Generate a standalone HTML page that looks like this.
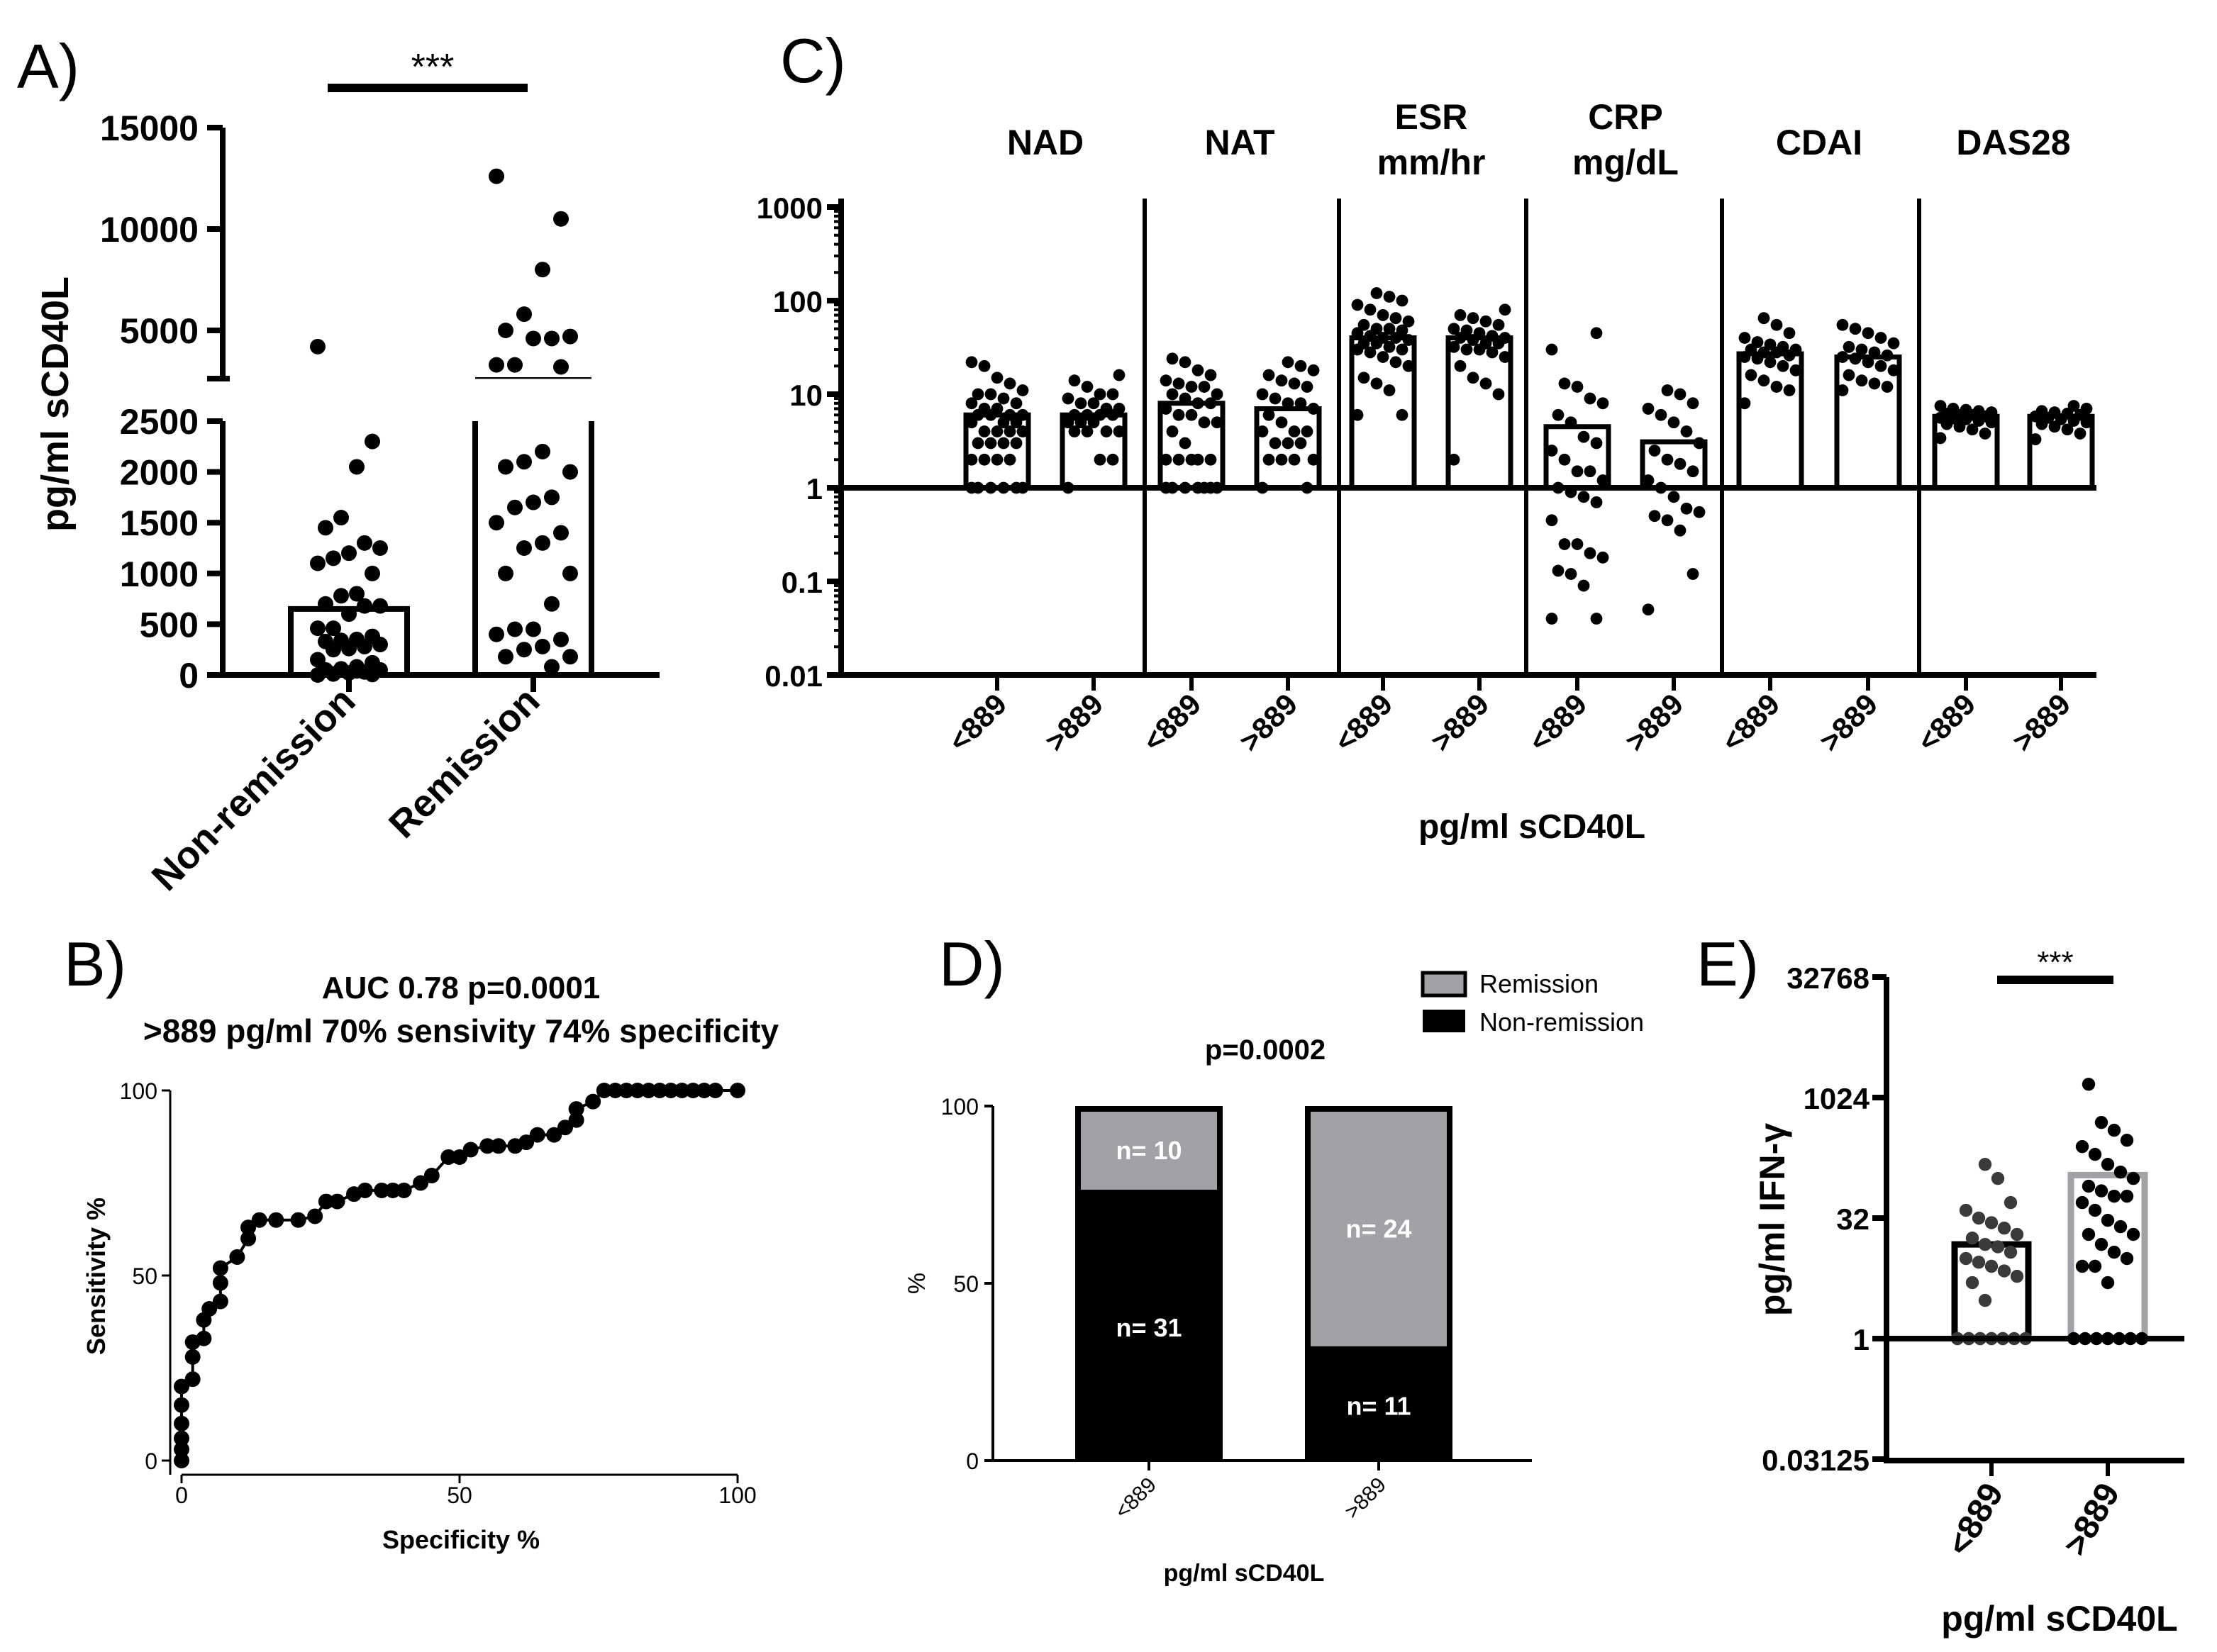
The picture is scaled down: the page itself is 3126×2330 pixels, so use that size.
<!DOCTYPE html>
<html><head><meta charset="utf-8"><style>
html,body{margin:0;padding:0;background:#fff;}
svg{display:block;}
text{font-family:"Liberation Sans",Arial,sans-serif;fill:#000;}
.b{font-weight:bold;}
</style></head><body>
<svg id="fig" width="3126" height="2330" viewBox="0 0 1563 1165" xmlns="http://www.w3.org/2000/svg">
<g id="A"></g>
<g id="B"></g>
<g id="C"></g>
<g id="D"></g>
<g id="E"></g>
</svg>
<script>
// ---------- Panel A data ----------
const aCategories = ["Non-remission","Remission"];
const aMeans = [650, 2650];
const aNonRem = [4200,2300,2050,1550,1450,1250,1300,1200,1150,1100,1000,800,780,700,680,680,600,460,460,380,350,340,330,300,280,260,250,150,120,80,60,50,50,30,20,10,0,5,40];
const aRem = [12600,10500,8000,5800,5000,4700,4600,4600,3300,3300,3200,2200,2100,2050,2000,1750,1700,1650,1500,1400,1300,1250,1000,1000,700,450,450,400,350,280,250,180,180,80];
const aTicksLow = [0,500,1000,1500,2000,2500];
const aTicksHigh = [5000,10000,15000];
// ---------- Panel B data ----------
const rocSpec = [0,0,0,0,0,0,2,2,2,4,4,5,7,7,7,10,12,12,14,17,21,24,26,28,31,33,36,38,40,43,45,48,50,52,55,57,60,62,64,67,69,71,71,74,76,78,80,82,84,86,88,90,92,94,96,100];
const rocSens = [0,3,6,10,15,20,22,28,32,33,38,41,43,48,52,55,60,63,65,65,65,66,70,70,72,73,73,73,73,75,77,82,82,84,85,85,85,86,88,88,90,92,95,97,100,100,100,100,100,100,100,100,100,100,100,100];
const bTicks = [0,50,100];
// ---------- Panel C data ----------
const cHeaders = [["NAD"],["NAT"],["ESR","mm/hr"],["CRP","mg/dL"],["CDAI"],["DAS28"]];
const cGroupLabels = ["<889",">889"];
const cMeans = [6,6,8,7,40,40,4.5,3.1,27,25,5.8,5.8];
const cNADlo = [1,1,1,1,1,1,2,2,2,2,3,3,3,3,4,4,4,4,5,5,5,6,6,6,6,7,7,8,8,9,10,10,11,13,15,20,22];
const cNADhi = [1,2,2,4,4,4,4,5,5,5,6,6,6,6,7,7,8,8,9,10,10,12,14,16];
const cNATlo = [1,1,1,1,1,1,1,2,2,2,2,2,3,4,5,5,6,6,7,8,8,9,10,10,12,12,13,14,16,18,22,24];
const cNAThi = [1,1,2,2,2,2,3,3,3,4,4,4,5,6,7,8,8,9,10,12,13,14,16,18,20,22];
const cESRlo = [6,6,11,13,15,20,22,25,28,30,30,32,35,35,38,40,40,42,45,48,50,50,55,60,65,70,80,90,100,110,120];
const cESRhi = [2,10,13,15,20,25,28,30,30,32,35,35,38,40,40,42,45,48,50,55,60,65,70,80];
const cCRPlo = [0.04,0.04,0.09,0.12,0.13,0.18,0.2,0.25,0.25,0.45,0.7,0.8,0.9,1,1.2,1.5,1.5,2,2.5,3,3.5,5,6,8,9,12,13,30,45];
const cCRPhi = [0.05,0.12,0.35,0.45,0.5,0.55,0.6,0.8,1,1.2,1.5,1.8,2,2.5,3,4,5,6,7,8,10,11];
const cCDAIlo = [8,11,12,14,16,18,20,22,24,25,26,28,28,30,30,32,34,36,40,45,55,65];
const cCDAIhi = [11,12,13,14,16,18,20,22,24,25,26,28,30,32,35,40,45,50,55];
const cDASlo = [3.4,3.8,4.2,4.5,4.8,5,5.2,5.4,5.5,5.6,5.8,6,6,6.2,6.4,6.6,6.8,7,7.5];
const cDAShi = [3.3,3.8,4.2,4.5,4.8,5,5.2,5.4,5.6,5.8,6,6.2,6.4,6.6,7,7.5];
const cTickLabels = ["0.01","0.1","1","10","100","1000"];
const cTickValues = [0.01,0.1,1,10,100,1000];
// ---------- Panel D data ----------
const dCategories = ["<889",">889"];
const dNonRem = [31, 11];
const dRem = [10, 24];
const dTicks = [0,50,100];
// ---------- Panel E data ----------
const eCategories = ["<889",">889"];
const eMeans = [15, 110];
const eLow = [1,1,1,1,1,1,1,1,1,1,1,1,3,5,6,7,8,9,10,12,14,15,18,20,24,28,32,40,50,100,150];
const eHigh = [1,1,1,1,1,1,1,5,8,8,10,12,15,20,20,25,30,40,50,60,60,70,80,100,120,150,200,250,300,400,500,1500];
const eTickValues = [0.03125,1,32,1024,32768];
const eTickLabels = ["0.03125","1","32","1024","32768"];

const NS="http://www.w3.org/2000/svg";
function el(parent,tag,attrs,txt){const e=document.createElementNS(NS,tag);for(const k in attrs)e.setAttribute(k,attrs[k]);if(txt!==undefined)e.textContent=txt;parent.appendChild(e);return e;}
function jit(i,w){return (((i*7)%9)-4)/4*w;}

// ===== Panel A =====
(function(){
const g=document.getElementById('A');
const yA=v=> v<=2600 ? 476-v/2500*179 : 233-(v-5000)/10000*143;
const xA=[246,376];
let t=el(g,'text',{x:12,y:62,'font-size':44});t.textContent='A)';

let ax=el(g,'path',{d:'M157,90 V267 M157,297 V476 H465',stroke:'#000','stroke-width':4,fill:'none'});

el(g,'line',{x1:146,x2:162,y1:267,y2:267,stroke:'#000','stroke-width':4});
aTicksLow.forEach(v=>{el(g,'line',{x1:146,x2:157,y1:yA(v),y2:yA(v),stroke:'#000','stroke-width':4});
 const tt=el(g,'text',{x:140,y:yA(v)+9,'text-anchor':'end','font-size':25,class:'b'},String(v));
 });
aTicksHigh.forEach(v=>{el(g,'line',{x1:146,x2:157,y1:yA(v),y2:yA(v),stroke:'#000','stroke-width':4});
 const tt=el(g,'text',{x:140,y:yA(v)+9,'text-anchor':'end','font-size':25,class:'b'},String(v));
 });
let yt=el(g,'text',{x:0,y:0,transform:'translate(48,285) rotate(-90)','text-anchor':'middle','font-size':27,class:'b'},'pg/ml sCD40L');

aMeans.forEach((m,i)=>{
 const x0=xA[i]-41,x1=xA[i]+41;
 let b;
 if(m<=2500){b=el(g,'path',{d:`M${x0},476 V${yA(m)} H${x1} V476`,stroke:'#000','stroke-width':4,fill:'none'});}
 else{b=el(g,'path',{d:`M${x0},476 V297 M${x1},476 V297`,stroke:'#000','stroke-width':4,fill:'none'});
  el(g,'line',{x1:x0,x2:x1,y1:yA(m),y2:yA(m),stroke:'#000','stroke-width':1.2});}
 
 el(g,'line',{x1:xA[i],x2:xA[i],y1:476,y2:488,stroke:'#000','stroke-width':4});
 const lab=el(g,'text',{x:0,y:0,transform:`translate(${xA[i]+6},${496}) rotate(-45)`,'text-anchor':'end','font-size':27,class:'b'},aCategories[i]);
 
});
[aNonRem,aRem].forEach((arr,gi)=>arr.forEach((v,i)=>{
 const c=el(g,'circle',{cx:xA[gi]+jit(i,gi?26:22),cy:yA(v),r:5.5,fill:'#000'});
 }));
const sb=el(g,'line',{x1:231,x2:372,y1:62,y2:62,stroke:'#000','stroke-width':6});

el(g,'text',{x:305,y:56,'text-anchor':'middle','font-size':26},'***');
})();

// ===== Panel B =====
(function(){
const g=document.getElementById('B');
const xB=v=>128+v*3.92, yB=v=>1030-v*2.61;
el(g,'text',{x:45,y:695,'font-size':44},'B)');
const t1=el(g,'text',{x:325,y:704,'text-anchor':'middle','font-size':22,class:'b'},'AUC 0.78 p=0.0001');

el(g,'text',{x:325,y:735,'text-anchor':'middle','font-size':23,class:'b'},'>889 pg/ml 70% sensivity 74% specificity');
const ax=el(g,'path',{d:'M120,769 V1040 M128,1040 H520',stroke:'#000','stroke-width':1.5,fill:'none'});

bTicks.forEach(v=>{
 el(g,'line',{x1:114,x2:120,y1:yB(v),y2:yB(v),stroke:'#000','stroke-width':1.5});
 el(g,'text',{x:111,y:yB(v)+6,'text-anchor':'end','font-size':16},String(v));
 el(g,'line',{x1:xB(v),x2:xB(v),y1:1040,y2:1046,stroke:'#000','stroke-width':1.5});
 el(g,'text',{x:xB(v),y:1060,'text-anchor':'middle','font-size':16},String(v));
});
const xt=el(g,'text',{x:325,y:1092,'text-anchor':'middle','font-size':18,class:'b'},'Specificity %');

const yt=el(g,'text',{x:0,y:0,transform:'translate(74,900) rotate(-90)','text-anchor':'middle','font-size':18,class:'b'},'Sensitivity %');

let d='';rocSpec.forEach((s,i)=>{d+=(i?'L':'M')+xB(s)+','+yB(rocSens[i]);});
const ln=el(g,'path',{d:d,stroke:'#000','stroke-width':2,fill:'none'});

rocSpec.forEach((s,i)=>{const c=el(g,'circle',{cx:xB(s),cy:yB(rocSens[i]),r:5.5,fill:'#000'});
 });
})();

// ===== Panel C =====
(function(){
const g=document.getElementById('C');
const yC=v=>344-Math.log10(v)*66;
const centers=[703,771,840,908,975,1043,1112,1180,1248,1317,1386,1453];
const groups=[cNADlo,cNADhi,cNATlo,cNAThi,cESRlo,cESRhi,cCRPlo,cCRPhi,cCDAIlo,cCDAIhi,cDASlo,cDAShi];
el(g,'text',{x:550,y:58,'font-size':44},'C)');
const ax=el(g,'path',{d:'M593,140 V476 H1478',stroke:'#000','stroke-width':4,fill:'none'});

cTickValues.forEach((v,i)=>{
 el(g,'line',{x1:583,x2:593,y1:yC(v),y2:yC(v),stroke:'#000','stroke-width':4});
 const tt=el(g,'text',{x:580,y:yC(v)+8,'text-anchor':'end','font-size':21,class:'b'},cTickLabels[i]);
 
 if(i<cTickValues.length-1) for(let k=2;k<10;k++){const yy=yC(v*k);el(g,'line',{x1:588,x2:593,y1:yy,y2:yy,stroke:'#000','stroke-width':2});}
});
[807,944,1076,1214,1353].forEach(x=>{const s=el(g,'line',{x1:x,x2:x,y1:140,y2:476,stroke:'#000','stroke-width':3});
 });
cHeaders.forEach((h,i)=>{const cx=(centers[2*i]+centers[2*i+1])/2;
 h.forEach((line,j)=>{const y=h.length===1?109:91+j*32;
  const tt=el(g,'text',{x:cx,y:y,'text-anchor':'middle','font-size':25,class:'b'},line);
  });});
groups.forEach((arr,gi)=>{
 const cx=centers[gi],m=cMeans[gi];
 const b=el(g,'path',{d:`M${cx-22},344 V${yC(m)} H${cx+22} V344`,stroke:'#000','stroke-width':3.5,fill:'none'});
 
 arr.forEach((v,i)=>{const c=el(g,'circle',{cx:cx+jit(i,18),cy:yC(v),r:4.2,fill:'#000'});
  });
 el(g,'line',{x1:cx,x2:cx,y1:476,y2:487,stroke:'#000','stroke-width':3});
 const lab=el(g,'text',{x:0,y:0,transform:`translate(${cx+8},${498}) rotate(-45)`,'text-anchor':'end','font-size':21,class:'b'},cGroupLabels[gi%2]);
 
});
const one=el(g,'line',{x1:593,x2:1478,y1:344,y2:344,stroke:'#000','stroke-width':4});

const xt=el(g,'text',{x:1080,y:591,'text-anchor':'middle','font-size':24,class:'b'},'pg/ml sCD40L');

})();

// ===== Panel D =====
(function(){
const g=document.getElementById('D');
const yD=v=>1030-v*2.5;
const centers=[810,972];
el(g,'text',{x:662,y:695,'font-size':44},'D)');
const lg1=el(g,'rect',{x:1003,y:686,width:30,height:16,fill:'#a2a2a6',stroke:'#000','stroke-width':2.5});

el(g,'text',{x:1043,y:700,'font-size':18},'Remission');
const lg2=el(g,'rect',{x:1003,y:712,width:30,height:16,fill:'#000'});

el(g,'text',{x:1043,y:727,'font-size':18},'Non-remission');
el(g,'text',{x:892,y:747,'text-anchor':'middle','font-size':20,class:'b'},'p=0.0002');
const ax=el(g,'path',{d:'M700,780 V1030 H962',stroke:'#000','stroke-width':2,fill:'none'});

el(g,'line',{x1:700,x2:1080,y1:1030,y2:1030,stroke:'#000','stroke-width':2});
dTicks.forEach(v=>{el(g,'line',{x1:694,x2:700,y1:yD(v),y2:yD(v),stroke:'#000','stroke-width':2});
 el(g,'text',{x:690,y:yD(v)+6,'text-anchor':'end','font-size':16},String(v));});
el(g,'text',{x:0,y:0,transform:'translate(652,905) rotate(-90)','text-anchor':'middle','font-size':17},'%');
dCategories.forEach((c,i)=>{
 const tot=dNonRem[i]+dRem[i],pn=dNonRem[i]/tot*100;
 const x0=centers[i]-52;
 const r1=el(g,'rect',{x:x0,y:yD(pn),width:104,height:yD(0)-yD(pn),fill:'#000'});
 
 const r2=el(g,'rect',{x:x0+2,y:yD(100)+2,width:100,height:yD(pn)-yD(100)-2,fill:'#a2a2a6',stroke:'#000','stroke-width':4});
 
 el(g,'text',{x:centers[i],y:(yD(pn)+yD(100))/2+7,'text-anchor':'middle','font-size':18,class:'b',style:'fill:#fff'},'n= '+dRem[i]);
 el(g,'text',{x:centers[i],y:(yD(pn)+yD(0))/2+7,'text-anchor':'middle','font-size':18,class:'b',style:'fill:#fff'},'n= '+dNonRem[i]);
 el(g,'line',{x1:centers[i],x2:centers[i],y1:1030,y2:1037,stroke:'#000','stroke-width':2});
 const lab=el(g,'text',{x:0,y:0,transform:`translate(${centers[i]+6},${1048}) rotate(-45)`,'text-anchor':'end','font-size':15},c);
 
});
const xt=el(g,'text',{x:877,y:1115,'text-anchor':'middle','font-size':17,class:'b'},'pg/ml sCD40L');

})();

// ===== Panel E =====
(function(){
const g=document.getElementById('E');
const yE=v=>944-Math.log2(v)*17;
const centers=[1404,1486];
el(g,'text',{x:1196,y:695,'font-size':44},'E)');
const ax=el(g,'path',{d:'M1330,689 V1030 H1540',stroke:'#000','stroke-width':4,fill:'none'});

eTickValues.forEach((v,i)=>{el(g,'line',{x1:1320,x2:1330,y1:yE(v),y2:yE(v),stroke:'#000','stroke-width':4});
 const tt=el(g,'text',{x:1318,y:yE(v)+8,'text-anchor':'end','font-size':21,class:'b'},eTickLabels[i]);
 });
const yt=el(g,'text',{x:0,y:0,transform:'translate(1258,860) rotate(-90)','text-anchor':'middle','font-size':25,class:'b'},'pg/ml IFN-γ');

const cols=['#000','#a2a2a6'],pcol=['#3a3a3a','#000'];
[eLow,eHigh].forEach((arr,gi)=>{
 const cx=centers[gi],m=eMeans[gi];
 const b=el(g,'path',{d:`M${cx-26},944 V${yE(m)} H${cx+26} V944`,stroke:cols[gi],'stroke-width':4.5,fill:'none'});
 
 arr.forEach((v,i)=>{const c=el(g,'circle',{cx:cx+(v===1?((i%7)-3)*8:jit(i,18)),cy:yE(v),r:4.6,fill:pcol[gi]});
  });
 el(g,'line',{x1:cx,x2:cx,y1:1030,y2:1041,stroke:'#000','stroke-width':3});
 const lab=el(g,'text',{x:0,y:0,transform:`translate(${cx+9},${1052}) rotate(-60)`,'text-anchor':'end','font-size':24,class:'b'},eCategories[gi]);
 
});
const one=el(g,'line',{x1:1330,x2:1540,y1:944,y2:944,stroke:'#000','stroke-width':4});

const sb=el(g,'line',{x1:1408,x2:1490,y1:691,y2:691,stroke:'#000','stroke-width':6});

el(g,'text',{x:1449,y:686,'text-anchor':'middle','font-size':22},'***');
const xt=el(g,'text',{x:1452,y:1150,'text-anchor':'middle','font-size':25,class:'b'},'pg/ml sCD40L');

})();
</script>
</body></html>
